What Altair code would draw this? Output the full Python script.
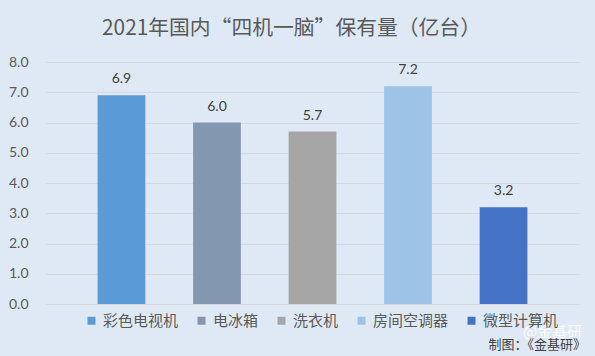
import altair as alt
import pandas as pd

categories = ["彩色电视机", "电冰箱", "洗衣机", "房间空调器", "微型计算机"]
values = [6.9, 6.0, 5.7, 7.2, 3.2]
colors = ["#5b9bd5", "#8497b0", "#a5a5a5", "#9dc3e6", "#4472c4"]
y_ticks = [0, 1, 2, 3, 4, 5, 6, 7, 8]

df = pd.DataFrame({"cat": categories, "val": values})
CJK = "Noto Sans CJK SC"

x = alt.X("cat:N", sort=categories, axis=None,
          scale=alt.Scale(paddingInner=0.5, paddingOuter=0.54))
y = alt.Y("val:Q", scale=alt.Scale(domain=[0, 8]),
          axis=alt.Axis(values=y_ticks, format=".1f", title=None, domain=False,
                        ticks=False, labelPadding=18, labelFontSize=14,
                        labelColor="#595959", labelFont="Lato",
                        gridColor="#d9d9d9", gridWidth=1))

bars = alt.Chart(df).mark_bar().encode(
    x=x, y=y,
    color=alt.Color("cat:N", sort=categories,
                    scale=alt.Scale(domain=categories, range=colors),
                    legend=alt.Legend(title=None, orient="none", direction="horizontal",
                                      legendX=38, legendY=251, columns=5,
                                      columnPadding=15, symbolType="square",
                                      symbolSize=64, symbolStrokeWidth=0,
                                      labelFont=CJK, labelFontSize=15,
                                      labelColor="#595959", labelOffset=4)),
)

labels = alt.Chart(df).mark_text(baseline="bottom", dy=-9, fontSize=14,
                                 font="Lato", color="#404040").encode(
    x=x, y=y, text=alt.Text("val:Q", format=".1f"))

watermark = alt.Chart(pd.DataFrame({"t": ["@金基研"]})).mark_text(
    align="left", baseline="middle", font=CJK, fontSize=15,
    color="#ffffff", opacity=0.85).encode(
    x=alt.value(477), y=alt.value(270), text="t:N")

footer = alt.Chart(pd.DataFrame({"t": ["制图：《金基研》"]})).mark_text(
    align="right", baseline="middle", font=CJK, fontSize=13,
    color="#404040").encode(
    x=alt.value(540), y=alt.value(283), text="t:N")

chart = alt.layer(bars, labels, watermark, footer).properties(
    width=533, height=242,
    autosize=alt.AutoSizeParams(type="none"),
    padding={"left": 46, "top": 62, "right": 16, "bottom": 52},
    background="#dfe9f5",
    title=alt.TitleParams("2021年国内“四机一脑”保有量（亿台）", font=CJK,
                          fontSize=20.8, fontWeight="normal", color="#595959",
                          anchor="middle", offset=15, dx=-21),
).configure_view(stroke=None)

chart.save("out.html", embed_options={"renderer": "svg", "actions": False})
